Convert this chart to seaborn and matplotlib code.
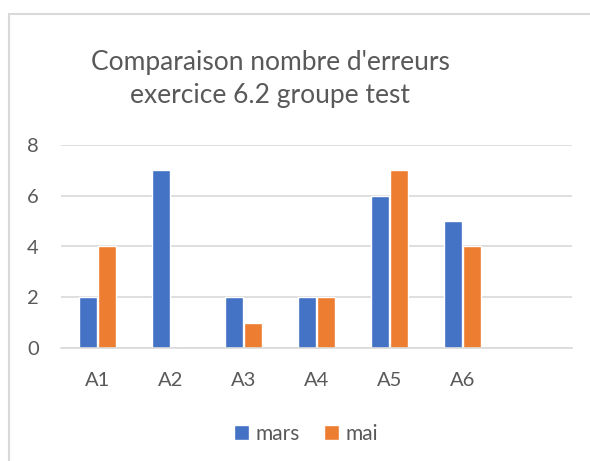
import seaborn as sns
import pandas as pd
import matplotlib.pyplot as plt
from matplotlib.patches import Rectangle

categories = ["A1", "A2", "A3", "A4", "A5", "A6"]
mars = [2, 7, 2, 2, 6, 5]
mai = [4, 0, 1, 2, 7, 4]
yticks = [0, 2, 4, 6, 8]

df = pd.DataFrame({
    "groupe": categories * 2,
    "erreurs": mars + mai,
    "mois": ["mars"] * len(mars) + ["mai"] * len(mai),
})

sns.set_style("white")
plt.rcParams["font.family"] = ["Lato", "DejaVu Sans"]
grey = "#595959"

fig = plt.figure(figsize=(5.9, 4.61), dpi=100)
ax = fig.add_axes([61 / 590, 1 - 348 / 461, (572 - 61) / 590, (348 - 145) / 461])

# chart frame (Excel style), cut off at right and bottom
fig.patches.append(Rectangle((8.5 / 590, -0.05), 1.1, 1 - 13.5 / 461 + 0.05,
                             transform=fig.transFigure, fill=False,
                             edgecolor="#D9D9D9", linewidth=1.5))

sns.barplot(data=df, x="groupe", y="erreurs", hue="mois",
            order=categories + [" "], hue_order=["mars", "mai"],
            palette=["#4472C4", "#ED7D31"], width=0.52, gap=0.1,
            saturation=1, ax=ax)

ax.set_ylim(0, 8)
ax.set_yticks(yticks)
ax.set_xlim(-0.5, 6.5)
ax.yaxis.grid(True, color="#D9D9D9", linewidth=1.2)
ax.set_axisbelow(True)
for s in ["top", "right", "left"]:
    ax.spines[s].set_visible(False)
ax.spines["bottom"].set_color("#D9D9D9")
ax.spines["bottom"].set_linewidth(1.2)
ax.tick_params(axis="both", length=0, labelsize=14.5, colors=grey)
ax.tick_params(axis="x", pad=17)
ax.tick_params(axis="y", pad=16)
ax.set_xlabel("")
ax.set_ylabel("")

fig.text(270 / 590, 1 - 79 / 461, "Comparaison nombre d'erreurs\nexercice 6.2 groupe test",
         ha="center", va="center", fontsize=19, color=grey, linespacing=1.42)

leg = ax.legend(loc="center", bbox_to_anchor=(306 / 590, 1 - 434 / 461), bbox_transform=fig.transFigure,
                ncol=2, frameon=False, fontsize=15, handlelength=0.7, handleheight=0.7,
                handletextpad=0.3, columnspacing=1.2)
for t in leg.get_texts():
    t.set_color(grey)

fig.savefig("out.png", dpi=100, facecolor="white")
